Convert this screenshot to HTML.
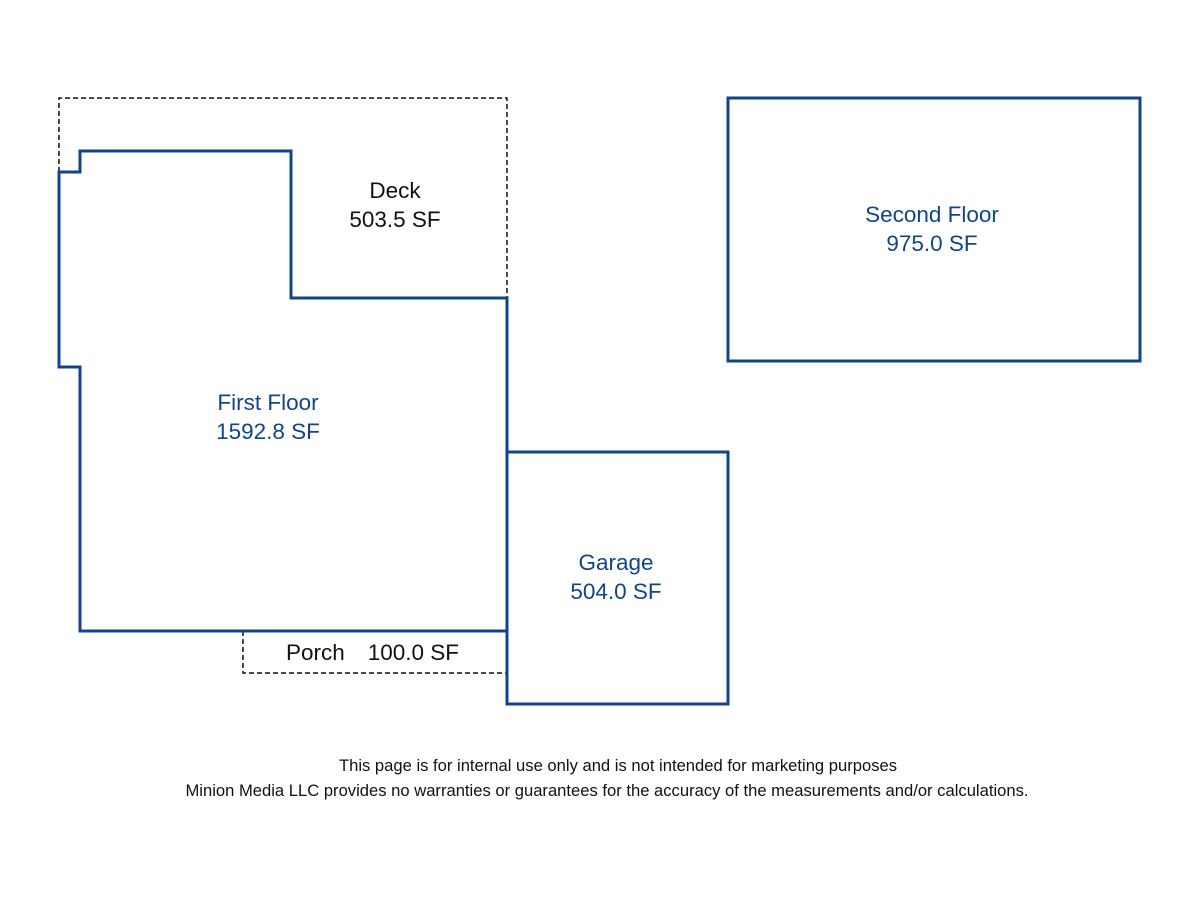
<!DOCTYPE html>
<html><head><style>
html,body{margin:0;padding:0;background:#fff;}
svg{display:block;}
text{font-family:"Liberation Sans",sans-serif;}
</style></head><body>
<svg width="1200" height="900" viewBox="0 0 1200 900" xmlns="http://www.w3.org/2000/svg">
<rect width="1200" height="900" fill="#fff"/>
<g fill="none" stroke="#111" stroke-width="1.5" stroke-dasharray="5,3">
<polyline points="59,172 59,98 507,98 507,298"/>
<polyline points="243,631 243,673 507,673"/>
</g>
<g fill="none" stroke="#12448a" stroke-width="3">
<polygon points="59,172 80,172 80,151 291,151 291,298 507,298 507,631 80,631 80,367 59,367"/>
<rect x="507" y="452" width="221" height="252"/>
<rect x="728" y="98" width="412" height="263"/>
</g>
<g font-size="22.5" text-anchor="middle">
<text x="395" y="198" fill="#111">Deck</text>
<text x="395" y="227" fill="#111">503.5 SF</text>
<text x="268" y="410" fill="#12448a">First Floor</text>
<text x="268" y="439" fill="#12448a">1592.8 SF</text>
<text x="616" y="570" fill="#12448a">Garage</text>
<text x="616" y="599" fill="#12448a">504.0 SF</text>
<text x="932" y="222" fill="#12448a">Second Floor</text>
<text x="932" y="251" fill="#12448a">975.0 SF</text>
<text x="286" y="660" fill="#111" text-anchor="start">Porch</text>
<text x="459" y="660" fill="#111" text-anchor="end">100.0 SF</text>
</g>
<g font-size="16.6" text-anchor="middle" fill="#111">
<text x="618" y="771">This page is for internal use only and is not intended for marketing purposes</text>
<text x="607" y="796">Minion Media LLC provides no warranties or guarantees for the accuracy of the measurements and/or calculations.</text>
</g>
</svg>
</body></html>
